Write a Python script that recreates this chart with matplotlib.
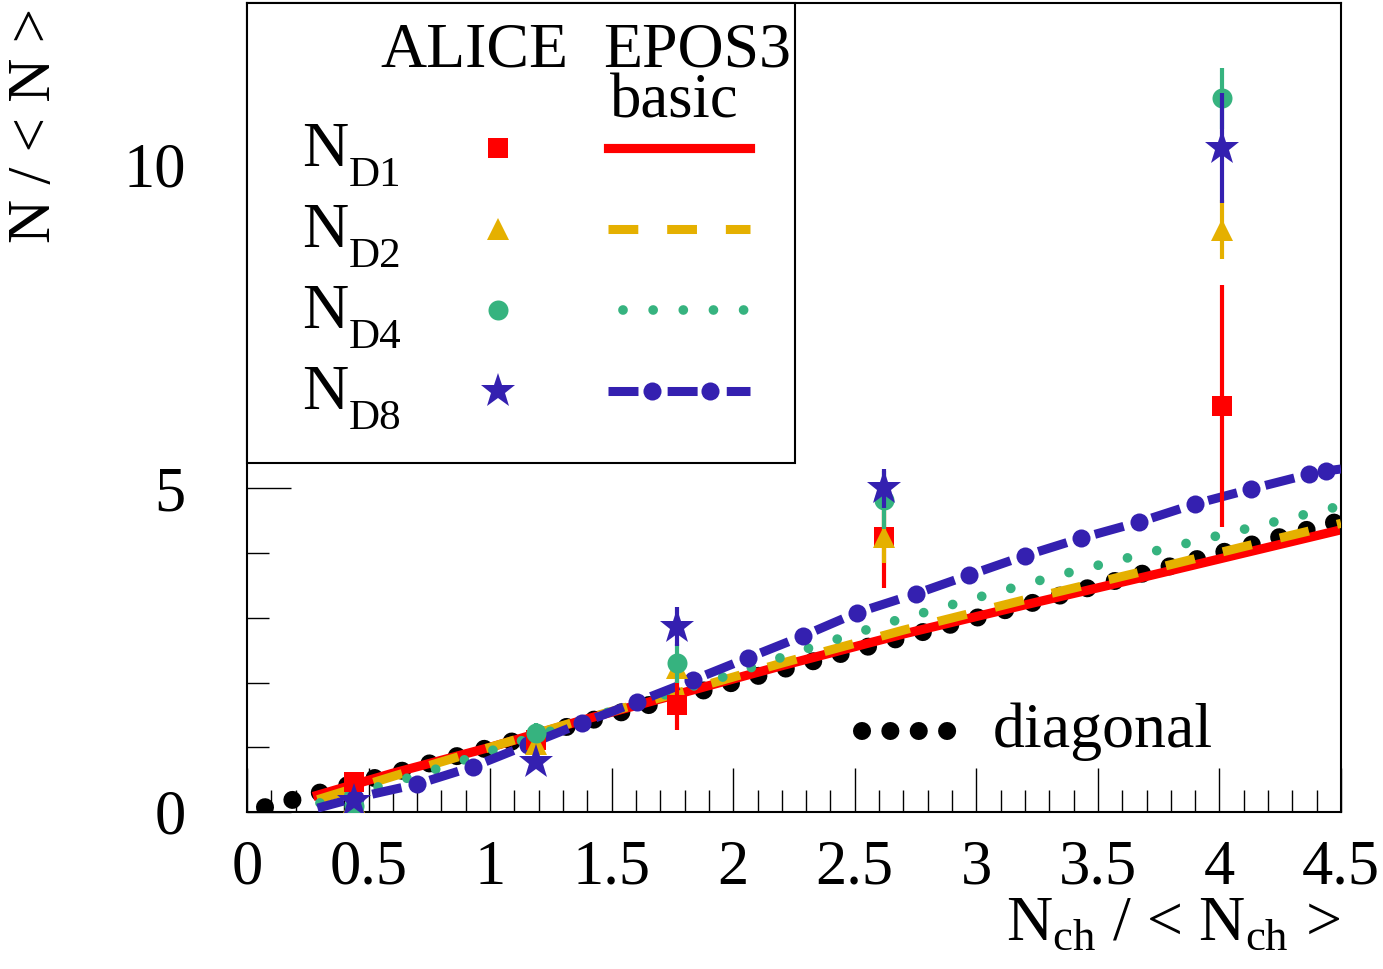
import matplotlib
matplotlib.use("Agg")
import matplotlib.pyplot as plt
from matplotlib.lines import Line2D
from matplotlib.patches import Rectangle
from matplotlib.ticker import MultipleLocator, FuncFormatter

plt.rcParams["font.family"] = ["Liberation Serif", "DejaVu Serif"]
plt.rcParams["mathtext.fontset"] = "custom"
plt.rcParams["mathtext.rm"] = "Liberation Serif"

# --- ALICE data points (x, value, error) ---
alice_x = [0.44, 1.19, 1.77, 2.62, 4.01]
nd1_y = [0.46, 1.12, 1.65, 4.25, 6.27]
nd1_err = [0.10, 0.22, 0.38, 0.79, 1.87]
nd2_y = [0.15, 1.05, 2.22, 4.25, 9.00]
nd2_err = [0.05, 0.10, 0.20, 0.40, 0.46]
nd4_y = [0.10, 1.22, 2.30, 4.82, 11.03]
nd4_err = [0.05, 0.15, 0.30, 0.45, 0.47]
nd8_y = [0.17, 0.78, 2.86, 5.00, 10.26]
nd8_err = [0.05, 0.10, 0.30, 0.30, 0.85]

# --- EPOS3 basic curves ---
epos_d1_x = [0.29, 0.6, 1.0, 1.4, 1.8, 2.2, 2.7, 3.2, 3.7, 4.1, 4.5]
epos_d1_y = [0.26, 0.60, 1.00, 1.44, 1.85, 2.26, 2.75, 3.20, 3.64, 4.00, 4.36]
epos_d2_x = [0.29, 0.6, 1.0, 1.4, 1.8, 2.2, 2.7, 3.2, 3.7, 4.1, 4.5]
epos_d2_y = [0.19, 0.55, 1.00, 1.45, 1.87, 2.30, 2.81, 3.28, 3.73, 4.10, 4.46]
epos_d4_x = [0.30, 0.58, 0.81, 1.04, 1.5, 1.97, 2.31, 2.66, 3.01, 3.36, 3.7, 4.07, 4.31, 4.5]
epos_d4_y = [0.14, 0.43, 0.70, 0.99, 1.56, 2.10, 2.53, 2.95, 3.32, 3.68, 4.00, 4.34, 4.56, 4.73]
epos_d8_x = [0.29, 0.444, 0.70, 0.93, 1.156, 1.378, 1.604, 1.835, 2.06, 2.287, 2.51,
             2.75, 2.97, 3.20, 3.43, 3.67, 3.90, 4.13, 4.37, 4.44, 4.5]
epos_d8_y = [0.06, 0.216, 0.43, 0.70, 1.04, 1.375, 1.70, 2.04, 2.38, 2.72, 3.08,
             3.37, 3.66, 3.96, 4.23, 4.48, 4.76, 4.99, 5.22, 5.27, 5.30]

diag_x = [0.074, 4.5]
diag_y = [0.074, 4.5]

RED = "#ff0000"
YEL = "#e5b000"
GRN = "#36b37f"
BLU = "#3420b0"

W, H = 1383, 969
AX_L, AX_R, AX_B, AX_T = 247, 1341, 812, 3


def axc(px, py):
    """pixel position of the reference -> axes fraction"""
    return (px - AX_L) / (AX_R - AX_L), (AX_B - py) / (AX_B - AX_T)


fig = plt.figure(figsize=(W / 100, H / 100), dpi=100)
ax = fig.add_axes([AX_L / W, 1 - AX_B / H, (AX_R - AX_L) / W, (AX_B - AX_T) / H])
ax.set_xlim(0, 4.5)
ax.set_ylim(0, 12.5)

# curves
dot_k = dict(dash_capstyle="round", solid_capstyle="round")
ax.plot(diag_x, diag_y, color="black", lw=13, linestyle=(0, (0.001, 1.57)), **dot_k, zorder=1)
ax.plot(epos_d1_x, epos_d1_y, color=RED, lw=6.6, zorder=2)
ax.plot(epos_d2_x, epos_d2_y, color=YEL, lw=6.5, linestyle=(0, (3.3, 3.2)), zorder=3)
ax.plot(epos_d4_x, epos_d4_y, color=GRN, lw=7, linestyle=(0, (0.001, 3.1)), **dot_k, zorder=4)
ax.plot(epos_d8_x, epos_d8_y, color=BLU, lw=6.5, linestyle=(0.29, (3.32, 3.23)), zorder=5)
ax.plot(epos_d8_x[1:-1], epos_d8_y[1:-1], "o", color=BLU, ms=13, mew=0, zorder=5)

# data points
eb = dict(fmt="none", elinewidth=3, capsize=0)
ax.errorbar(alice_x, nd1_y, yerr=nd1_err, ecolor=RED, zorder=6, **eb)
ax.plot(alice_x, nd1_y, "s", color=RED, ms=15, mew=0, zorder=6)
ax.errorbar(alice_x, nd2_y, yerr=nd2_err, ecolor=YEL, zorder=7, **eb)
ax.plot(alice_x, nd2_y, "^", color=YEL, ms=16.5, mew=0, zorder=7)
ax.errorbar(alice_x, nd4_y, yerr=nd4_err, ecolor=GRN, zorder=8, **eb)
ax.plot(alice_x, nd4_y, "o", color=GRN, ms=14.4, mew=0, zorder=8)
ax.errorbar(alice_x, nd8_y, yerr=nd8_err, ecolor=BLU, zorder=9, **eb)
ax.plot(alice_x, nd8_y, "*", color=BLU, ms=26, mew=0, zorder=9)

# axes style
for sp in ax.spines.values():
    sp.set_linewidth(1.5)
ax.xaxis.set_major_locator(MultipleLocator(0.5))
ax.xaxis.set_minor_locator(MultipleLocator(0.1))
ax.yaxis.set_major_locator(MultipleLocator(5))
ax.yaxis.set_minor_locator(MultipleLocator(1))
fmt = FuncFormatter(lambda v, pos: f"{v:g}")
ax.xaxis.set_major_formatter(fmt)
ax.yaxis.set_major_formatter(fmt)
ax.tick_params(which="both", direction="in", top=False, right=False, width=1, labelsize=45)
ax.tick_params(which="major", length=32)
ax.tick_params(which="minor", length=16)
ax.tick_params(axis="x", pad=20)
ax.tick_params(axis="y", pad=44)

# axis titles
fig.text(1340 / W, 1 - 940 / H, r"$\mathrm{N}_{\mathrm{ch}}$ / < $\mathrm{N}_{\mathrm{ch}}$ >",
         fontsize=46, ha="right", va="baseline")
fig.text(35 / W, 1 - 8 / H, "N / < N >", fontsize=44, rotation=90, ha="center", va="top")

# legend box
tr = ax.transAxes
x0, y0 = axc(247, 463)
x1, y1 = axc(795, 3)
ax.add_patch(Rectangle((x0, y0), x1 - x0, y1 - y0, transform=tr, fill=True,
                       facecolor="white", edgecolor="black", lw=1.5, zorder=20, clip_on=False))
ax.text(*axc(380, 67), "ALICE", transform=tr, fontsize=46, va="baseline", zorder=21)
ax.text(*axc(603, 67), "EPOS3", transform=tr, fontsize=46, va="baseline", zorder=21)
ax.text(*axc(610, 118), "basic", transform=tr, fontsize=45, va="baseline", zorder=21)

labels = ["D1", "D2", "D4", "D8"]
colors = [RED, YEL, GRN, BLU]
markers = [("s", 15), ("^", 16.5), ("o", 14.4), ("*", 26)]
for i, (lab, c, (m, ms)) in enumerate(zip(labels, colors, markers)):
    ry = 148 + 81 * i
    ax.text(*axc(302, ry + 18), "N", transform=tr, fontsize=46, va="baseline", zorder=21)
    ax.text(*axc(349, ry + 38), lab, transform=tr, fontsize=31, va="baseline", zorder=21)
    mx, my = axc(498, ry)
    ax.add_line(Line2D([mx], [my], transform=tr, marker=m, ms=ms, color=c, mew=0,
                       linestyle="none", zorder=21, clip_on=False))
    lx0, ly = axc(608, ry)
    lx1, _ = axc(750, ry)
    if i == 0:
        ls = dict(linestyle="-", lw=6.6)
    elif i == 1:
        ls = dict(linestyle=(0, (3.3, 3.2)), lw=6.5)
    elif i == 2:
        ls = dict(linestyle=(0, (0.001, 3.1)), lw=7, dash_capstyle="round")
        lx0, _ = axc(623, ry)
        lx1, _ = axc(744, ry)
    else:
        ls = dict(linestyle=(0, (3.32, 3.23)), lw=6.5)
    ax.add_line(Line2D([lx0, lx1], [ly, ly], transform=tr, color=c, zorder=21,
                       clip_on=False, **ls))
    if i == 3:
        px1, _ = axc(652, ry)
        px2, _ = axc(710, ry)
        ax.add_line(Line2D([px1, px2], [ly, ly], transform=tr, marker="o", ms=13, mew=0,
                           color=c, linestyle="none", zorder=22, clip_on=False))

# diagonal label
dx0, dy = axc(862, 731)
dx1, _ = axc(950, 731)
ax.add_line(Line2D([dx0, dx1], [dy, dy], transform=tr, color="black", lw=13,
                   linestyle=(0, (0.001, 1.57)), dash_capstyle="round", zorder=21))
ax.text(*axc(993, 747), "diagonal", transform=tr, fontsize=46, va="baseline", zorder=21)

fig.savefig("out.png", dpi=100)
